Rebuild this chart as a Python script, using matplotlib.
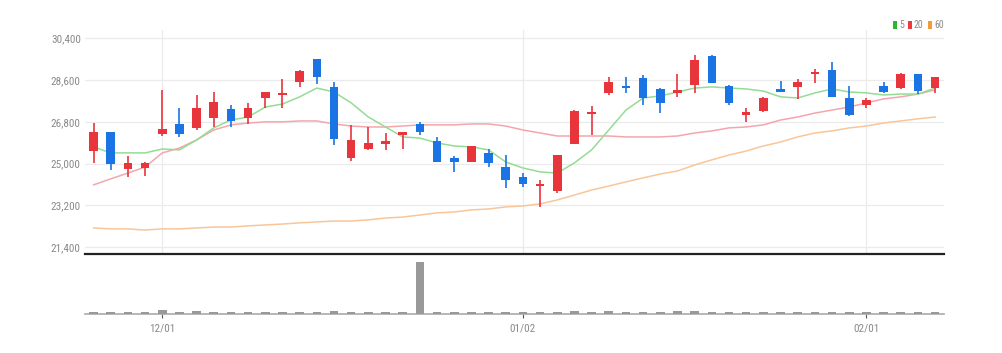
import matplotlib

matplotlib.use("Agg")
import matplotlib.pyplot as plt
import numpy as np
import pandas as pd
from matplotlib import font_manager
from matplotlib.patches import Rectangle

installed = {f.name for f in font_manager.fontManager.ttflist}
narrow = [n for n in ["Liberation Sans Narrow", "DejaVu Sans Condensed", "Roboto Condensed",
                      "Open Sans Condensed", "Roboto"] if n in installed]
plt.rcParams["font.family"] = narrow[:1] + ["DejaVu Sans"]

# trading days (KRX), 2022-11-25 .. 2023-02-07
holidays = ["2022-12-30", "2023-01-23", "2023-01-24"]
dates = pd.bdate_range("2022-11-25", "2023-02-07", freq="C", holidays=holidays)

opens = [25560, 26380, 24770, 24810, 26280, 26710, 26540, 26970, 27360, 26970,
         27830, 27960, 28520, 29520, 28310, 25240, 25630, 25860, 26250, 26710,
         25980, 25240, 25070, 25460, 24850, 24420, 24030, 23820, 25850, 27130,
         28050, 28360, 28700, 28220, 28060, 28390, 29650, 28350, 27110, 27270,
         28210, 28310, 28870, 29040, 27830, 27530, 28350, 28260, 28870, 28260]
highs = [26750, 26380, 25330, 25070, 28180, 27400, 27960, 28090, 27530, 27620,
         28090, 28650, 29040, 29520, 28520, 26670, 26580, 26320, 26360, 26800,
         26150, 25330, 25760, 25630, 25370, 24590, 24290, 25370, 27310, 27490,
         28740, 28740, 28820, 28260, 28870, 29690, 29690, 28390, 27400, 27880,
         28570, 28650, 29080, 29390, 28350, 27830, 28520, 28910, 28870, 28740]
lows = [25030, 24720, 24420, 24460, 26190, 26150, 26450, 26580, 26580, 26710,
        27400, 27400, 28310, 28440, 25800, 25110, 25590, 25590, 25630, 26230,
        25070, 24640, 25070, 24850, 23950, 23990, 23130, 23730, 25850, 26230,
        27960, 28050, 27530, 27180, 27880, 28050, 28480, 27530, 26800, 27230,
        28090, 27790, 28480, 27880, 27050, 27400, 28050, 28220, 28000, 28050]
closes = [26380, 24980, 25030, 25030, 26490, 26280, 27400, 27660, 26840, 27400,
          28090, 28060, 29000, 28740, 26060, 26020, 25890, 25960, 26350, 26360,
          25070, 25070, 25760, 25030, 24290, 24120, 24130, 25370, 27270, 27230,
          28520, 28260, 27830, 27620, 28160, 29470, 28480, 27620, 27210, 27830,
          28110, 28520, 28970, 27880, 27100, 27750, 28090, 28870, 28130, 28740]
volumes = [60, 45, 45, 55, 120, 70, 85, 60, 45, 45,
           55, 45, 70, 70, 85, 70, 45, 45, 45, 1500,
           45, 45, 45, 45, 45, 45, 45, 45, 85, 45,
           85, 45, 45, 45, 85, 85, 45, 45, 45, 45,
           45, 45, 45, 45, 45, 45, 45, 45, 45, 45]

ma5 = [25720, 25460, 25460, 25460, 25630, 25590, 26020, 26540, 26880, 27010,
       27440, 27570, 27880, 28260, 28090, 27620, 27010, 26580, 26150, 26100,
       25890, 25760, 25720, 25590, 25070, 24810, 24640, 24590, 25030, 25590,
       26450, 27310, 27830, 27920, 28090, 28260, 28310, 28260, 28220, 28130,
       27880, 27830, 28050, 28220, 28090, 28050, 27960, 28000, 28000, 28260]
ma20 = [24080, 24340, 24590, 24850, 25460, 25670, 26020, 26450, 26670, 26750,
        26800, 26800, 26840, 26840, 26710, 26620, 26580, 26580, 26620, 26670,
        26670, 26670, 26710, 26710, 26620, 26450, 26320, 26190, 26190, 26190,
        26190, 26150, 26150, 26150, 26190, 26320, 26410, 26540, 26580, 26670,
        26880, 27010, 27180, 27310, 27440, 27620, 27790, 27880, 28000, 28180]
ma60 = [22220, 22180, 22180, 22130, 22180, 22180, 22220, 22260, 22260, 22310,
        22350, 22390, 22440, 22480, 22520, 22520, 22570, 22650, 22690, 22780,
        22870, 22910, 23000, 23040, 23130, 23170, 23260, 23430, 23640, 23860,
        24030, 24210, 24380, 24550, 24680, 24940, 25160, 25370, 25540, 25760,
        25930, 26150, 26320, 26410, 26540, 26620, 26750, 26840, 26930, 27010]

price_ticks = [21400, 23200, 25000, 26800, 28600, 30400]
ma_labels = ["5", "20", "60"]
ma_colors = ["#94dc94", "#f4a6ab", "#f8c699"]
legend_colors = ["#2fb52f", "#f0393f", "#f39a3a"]
UP = "#e8343b"
DOWN = "#1b74e4"
TEXT = "#8a8a8a"

x = np.arange(len(dates))
o = np.array(opens)
c = np.array(closes)
up = c >= o
colors = np.where(up, UP, DOWN)
body_low = np.minimum(o, c)
body_h = np.maximum(np.abs(c - o), 90)

W, H = 1002, 353
fig = plt.figure(figsize=(W / 100, H / 100), dpi=100)
ax = fig.add_axes([0.0848, 0.2805, 0.857, 0.6346])
axv = fig.add_axes([0.0848, 0.1105, 0.857, 0.1643])

# price panel
for ma, col in zip([ma60, ma20, ma5], ma_colors[::-1]):
    ax.plot(x, ma, color=col, lw=1.1, zorder=2)
ax.vlines(x, lows, highs, colors=colors, lw=1.2, zorder=3)
ax.bar(x, body_h, bottom=body_low, width=0.5, color=colors, zorder=4)

ax.set_xlim(-0.5, len(x) - 0.5)
ax.set_ylim(21097, 30767)
ax.set_yticks(price_ticks)
ax.set_yticklabels([f"{t:,}" for t in price_ticks])
ax.tick_params(axis="y", length=0, labelsize=8, labelcolor=TEXT, pad=3)
ax.tick_params(axis="x", length=0, labelbottom=False)
ax.grid(axis="y", color="#ebebeb", lw=0.9, zorder=0)

month_start = [i for i in range(1, len(dates)) if dates[i].month != dates[i - 1].month]
ax.set_xticks(month_start)
ax.grid(axis="x", color="#ebebeb", lw=0.9, zorder=0)
for side in ["top", "right", "left"]:
    ax.spines[side].set_visible(False)
ax.spines["bottom"].set_color("#222222")
ax.spines["bottom"].set_linewidth(1.6)

# volume panel
vmax = max(volumes)
axv.bar(x, volumes, width=0.5, color="#999999", zorder=3)
axv.set_xlim(-0.5, len(x) - 0.5)
axv.set_ylim(0, vmax * 58 / 52)
axv.set_yticks([])
axv.set_xticks(month_start)
axv.set_xticklabels([dates[i].strftime("%m/%d") for i in month_start])
axv.tick_params(axis="x", length=3, color="#555555", labelsize=8, labelcolor=TEXT, pad=4)
for side in ["top", "right", "left"]:
    axv.spines[side].set_visible(False)
axv.spines["bottom"].set_color("#aaaaaa")
axv.spines["bottom"].set_linewidth(1.2)

# legend, top right (pixel positions from the left / top edge)
swatch_x = [893, 908, 928]
for px, lab, col in zip(swatch_x, ma_labels, legend_colors):
    fig.patches.append(Rectangle((px / W, 1 - 29 / H), 4 / W, 8 / H,
                                 transform=fig.transFigure, color=col, lw=0))
    fig.text((px + 6) / W, 1 - 25 / H, lab, color=TEXT, fontsize=7, va="center", ha="left")

fig.savefig("out.png", dpi=100, facecolor="white")
